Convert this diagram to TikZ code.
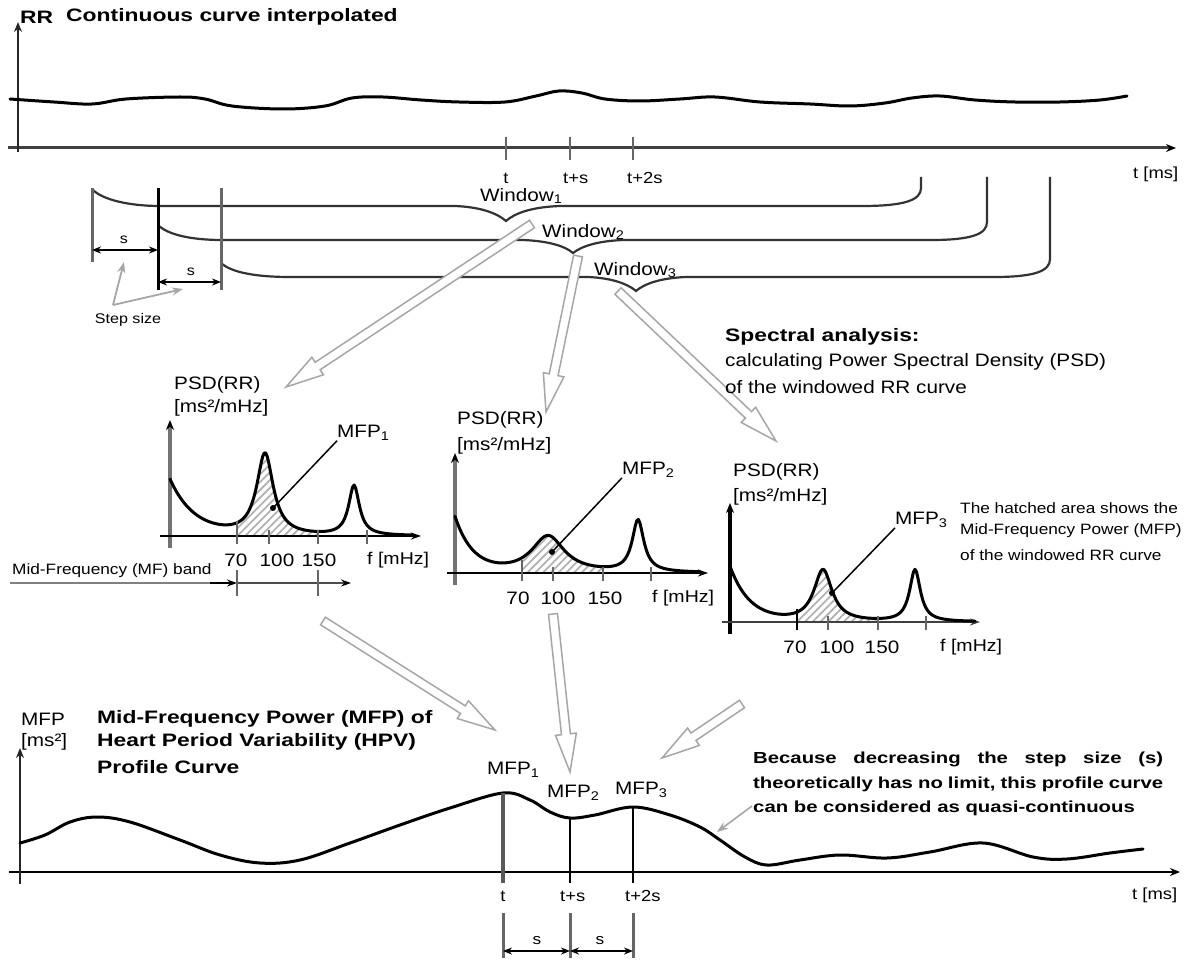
\documentclass[tikz,border=0pt]{standalone}
\usepackage{fontspec}
\setmainfont{Liberation Sans}[FakeStretch=1.15]
\newfontfamily\bdfam{Liberation Sans}[FakeStretch=1.27]
\usetikzlibrary{arrows.meta,calc,patterns.meta}
\newcommand\hollowarr[2]{%
  \coordinate (ha-n) at ($(#2)!38pt!(#1)$);
  \draw[hollow] ($(#1)!4.5pt!90:(#2)$) -- ($(ha-n)!4.5pt!-90:(#1)$) -- ($(ha-n)!10.5pt!-90:(#1)$) -- (#2)
     -- ($(ha-n)!10.5pt!90:(#1)$) -- ($(ha-n)!4.5pt!90:(#1)$) -- ($(#1)!4.5pt!-90:(#2)$) -- cycle;}
\begin{document}
\begin{tikzpicture}[x=1pt,y=-1pt,
  declare function={
    lor(\x,\qa,\qb,\qc)=\qb/(1+((\x-\qa)/\qc)*((\x-\qa)/\qc));
    pa(\x)=56*exp(-(\x-170)/25)+lor(\x,265,82,10)+lor(\x,354,50,6.5);
    pb(\x)=55*exp(-(\x-455)/18)+lor(\x,548,37,20)+lor(\x,638,52,7);
    pc(\x)=55*exp(-(\x-730)/20)+lor(\x,823,52,11)+lor(\x,915,52,6.5);},
  bt/.style={inner sep=0pt, font=\bdfam\bfseries\fontsize{18}{22}\selectfont},
  rt/.style={inner sep=0pt, font=\fontsize{18}{22}\selectfont},
  sm/.style={inner sep=0pt, font=\fontsize{16}{19}\selectfont},
  wl/.style={inner sep=0pt, font=\fontsize{18}{21}\selectfont},
  ss/.style={inner sep=0pt, font=\fontsize{14}{17}\selectfont},
  tiny15/.style={inner sep=0pt, font=\fontsize{15}{18}\selectfont},
  ax/.style={line width=3pt, draw=black!75},
  vax/.style={line width=2.6pt, draw=black!85, -{Stealth[length=10pt,width=8pt]}},
  curve/.style={line width=3pt, draw=black, line join=round, line cap=round},
  psdx/.style={line width=2.2pt, draw=black, -{Stealth[length=10pt,width=7pt]}},
  psdy/.style={line width=3.2pt, draw=black!55, -{Stealth[length=10pt,width=8pt,black]}},
  tick/.style={line width=2.8pt, draw=black!60},
  brace/.style={line width=2.2pt, draw=black!80},
  hollow/.style={draw=black!35, line width=1.5pt, fill=white, line join=miter},
  hatch/.style={pattern={Lines[angle=45,distance=5.5pt,line width=1.8pt]}, pattern color=black!30},
  leader/.style={line width=1.5pt, draw=black},
  dimarr/.style={line width=2.2pt, draw=black, {Stealth[length=9pt,width=7pt]}-{Stealth[length=9pt,width=7pt]}},
  grayarr/.style={line width=1.8pt, draw=black!35, -{Stealth[length=11pt,width=8pt]}}
]
\useasboundingbox (0,0) rectangle (1186,960);

% ================= TOP PANEL =================
\node[bt, anchor=west] (rr) at (20,17) {RR};
\node[bt, anchor=west] (title) at (66,17) {Continuous curve interpolated};
\coordinate (topO) at (18,152);
\coordinate (topY) at (18,22);
\coordinate (topXs) at (8,148);
\coordinate (topXe) at (1176,148);
\draw[ax, -{Stealth[length=10pt,width=8pt,black]}] (topXs) -- (topXe);
\draw[vax] (topO) -- (topY);
\node[sm, anchor=west] (tms1) at (1133,174) {t [ms]};
\draw[curve] plot[smooth, tension=0.6] coordinates {(10,99) (54,102) (92,104) (126,99) (180,97) (205,99) (232,106) (283,109) (325,106) (352,98) (383,97) (421,100) (459,102) (505,102) (536,96) (559,91) (582,93) (605,99) (640,101) (680,99) (715,97) (760,102) (810,104) (850,106) (885,103) (912,98) (940,96) (975,100) (1015,102) (1060,102) (1100,100) (1127,96)};
\foreach \tx in {506,570,633} \draw[tick] (\tx,137) -- (\tx,160);
\node[sm, anchor=center] (tt1) at (506,178) {t};
\node[sm, anchor=west] (tt2) at (563,178) {t+s};
\node[sm, anchor=west] (tt3) at (627,178) {t+2s};

% Windows (braces)
\draw[brace] (92,189) .. controls (102,200) and (130,206) .. (160,206) -- (455,206)
   .. controls (480,207) and (497,213) .. (506,221) .. controls (515,213) and (532,207) .. (560,206)
   -- (862,206) .. controls (905,206) and (921,200) .. (921,188) -- (921,177);
\draw[brace] (158,225) .. controls (168,235) and (192,240) .. (222,240) -- (523,240)
   .. controls (548,241) and (565,246) .. (573,253) .. controls (582,246) and (598,241) .. (623,240)
   -- (931,240) .. controls (972,240) and (987,234) .. (987,222) -- (987,177);
\draw[brace] (221,263) .. controls (232,273) and (258,277) .. (290,277) -- (588,277)
   .. controls (612,278) and (628,284) .. (636,291) .. controls (644,284) and (660,278) .. (686,277)
   -- (994,277) .. controls (1035,277) and (1050,271) .. (1050,259) -- (1050,177);
\node[wl, anchor=west] (w1) at (480,196) {Window\textsubscript{1}};
\node[wl, anchor=west] (w2) at (542,232) {Window\textsubscript{2}};
\node[wl, anchor=west] (w3) at (594,270) {Window\textsubscript{3}};

% step size
\draw[tick, line width=3pt] (92,188) -- (92,262);
\draw[tick, line width=3pt, draw=black] (158,188) -- (158,290);
\draw[tick, line width=3pt] (221,188) -- (221,290);
\coordinate (sA) at (92,250); \coordinate (sB) at (158,250);
\coordinate (sC) at (158,282); \coordinate (sD) at (221,282);
\draw[dimarr] (sA) -- (sB);
\draw[dimarr] (sC) -- (sD);
\node[ss] (s1) at (124,240) {s};
\node[ss] (s2) at (191,272) {s};
\node[ss] (stepsize) at (128,320) {Step size};
\coordinate (stepsrc) at (113,305);
\coordinate (stepT1) at (124,262);
\coordinate (stepT2) at (183,289);
\draw[grayarr] (stepsrc) -- (stepT1);
\draw[grayarr] (stepsrc) -- (stepT2);

% hollow arrows to PSDs
\coordinate (ha1s) at (532,224); \coordinate (ha1e) at (286,387);
\coordinate (ha2s) at (578,256); \coordinate (ha2e) at (546,412);
\coordinate (ha3s) at (618,291); \coordinate (ha3e) at (776,441);
\hollowarr{ha1s}{ha1e}
\hollowarr{ha2s}{ha2e}
\hollowarr{ha3s}{ha3e}

% Spectral analysis text
\node[bt, anchor=west] (spec) at (725,337) {Spectral analysis:};
\node[rt, anchor=west] (calc1) at (725,362) {calculating Power Spectral Density (PSD)};
\node[rt, anchor=west] (calc2) at (725,387) {of the windowed RR curve};

% ================= PSD 1 =================
\node[rt, anchor=west] (pa1) at (174,385) {PSD(RR)};
\node[rt, anchor=west] (pa2) at (174,408) {[ms²/mHz]};
\fill[hatch] plot[domain=237:318,samples=60] (\x,{536-pa(\x)}) -- (318,536) -- (237,536) -- cycle;
\draw[psdy] (170,548) -- (170,420);
\draw[psdx] (160,536) -- (421,536);
\draw[curve] plot[domain=170:412,samples=160] (\x,{536-pa(\x)});
\draw[tick] (237,521) -- (237,544);
\foreach \tx in {269,318,367} \draw[tick] (\tx,530) -- (\tx,544);
\node[rt] (pal70) at (236,560) {70};
\node[rt] (pal100) at (277,560) {100};
\node[rt] (pal150) at (319,560) {150};
\node[sm, anchor=west, font=\fontsize{17}{20}\selectfont] (palf) at (367,560) {f [mHz]};
\node[rt, anchor=west] (mfpa) at (337,433) {MFP\textsubscript{1}};
\coordinate (mfpaDot) at (273,508);
\draw[leader] (mfpa.south west) -- (mfpaDot);
\fill (mfpaDot) circle (3pt);

% MF band
\node[tiny15, anchor=west] (mfband) at (12,571) {Mid-Frequency (MF) band};
\coordinate (mfb0) at (10,583); \coordinate (mfb1) at (210,583);
\coordinate (mfb2) at (237,583); \coordinate (mfb3) at (351,583);
\draw[line width=2.4pt, draw=black!50] (mfb0) -- (mfb1);
\draw[line width=2.4pt, draw=black, -{Stealth[length=10pt,width=7pt]}] (mfb1) -- (mfb2);
\draw[line width=2.4pt, draw=black!70, -{Stealth[length=10pt,width=7pt,black]}] (mfb2) -- (mfb3);
\draw[tick] (237,570) -- (237,596);
\draw[tick] (318,570) -- (318,596);

% ================= PSD 2 =================
\node[rt, anchor=west] (pb1) at (457,420) {PSD(RR)};
\node[rt, anchor=west] (pb2) at (457,446) {[ms²/mHz]};
\fill[hatch] plot[domain=522:603,samples=60] (\x,{573-pb(\x)}) -- (603,573) -- (522,573) -- cycle;
\draw[psdy] (455,585) -- (455,453);
\draw[psdx] (447,573) -- (708,573);
\draw[curve] plot[domain=455:700,samples=160] (\x,{573-pb(\x)});
\draw[tick] (522,560) -- (522,581);
\foreach \tx in {553,603,651} \draw[tick] (\tx,567) -- (\tx,581);
\node[rt] (pbl70) at (518,598) {70};
\node[rt] (pbl100) at (558,598) {100};
\node[rt] (pbl150) at (605,598) {150};
\node[sm, anchor=west, font=\fontsize{17}{20}\selectfont] (pblf) at (652,598) {f [mHz]};
\node[rt, anchor=west] (mfpb) at (622,470) {MFP\textsubscript{2}};
\coordinate (mfpbDot) at (552,552);
\draw[leader] (mfpb.south west) -- (mfpbDot);
\fill (mfpbDot) circle (3pt);

% ================= PSD 3 =================
\node[rt, anchor=west] (pc1) at (733,472) {PSD(RR)};
\node[rt, anchor=west] (pc2) at (733,497) {[ms²/mHz]};
\fill[hatch] plot[domain=797:878,samples=60] (\x,{622-pc(\x)}) -- (878,622) -- (797,622) -- cycle;
\draw[psdy, draw=black] (730,634) -- (730,503);
\draw[psdx, draw=black!75] (722,622) -- (980,622);
\draw[curve] plot[domain=730:975,samples=160] (\x,{622-pc(\x)});
\draw[tick, draw=black] (797,609) -- (797,630);
\foreach \tx in {828,878,926} \draw[tick] (\tx,616) -- (\tx,630);
\node[rt] (pcl70) at (795,647) {70};
\node[rt] (pcl100) at (837,647) {100};
\node[rt] (pcl150) at (882,647) {150};
\node[sm, anchor=west, font=\fontsize{17}{20}\selectfont] (pclf) at (940,647) {f [mHz]};
\node[rt, anchor=west] (mfpc) at (895,520) {MFP\textsubscript{3}};
\coordinate (mfpcDot) at (832,593);
\draw[leader] (mfpc.south west) -- (mfpcDot);
\fill (mfpcDot) circle (3pt);

\node[tiny15, anchor=west] (hat1) at (960,508) {The hatched area shows the};
\node[tiny15, anchor=west] (hat2) at (960,531) {Mid-Frequency Power (MFP)};
\node[tiny15, anchor=west] (hat3) at (960,555) {of the windowed RR curve};

% hollow arrows to profile
\coordinate (hb1s) at (323,621); \coordinate (hb1e) at (495,730);
\coordinate (hb2s) at (553,614); \coordinate (hb2e) at (570,772);
\coordinate (hb3s) at (742,704); \coordinate (hb3e) at (662,758);
\hollowarr{hb1s}{hb1e}
\hollowarr{hb2s}{hb2e}
\hollowarr{hb3s}{hb3e}

% ================= BOTTOM PANEL =================
\node[rt, anchor=west] (mfpy1) at (21,719) {MFP};
\node[rt, anchor=west] (mfpy2) at (21,742) {[ms²]};
\node[bt, anchor=west] (bt1) at (97,719) {Mid-Frequency Power (MFP) of};
\node[bt, anchor=west] (bt2) at (97,742) {Heart Period Variability (HPV)};
\node[bt, anchor=west] (bt3) at (97,767) {Profile Curve};
\coordinate (botO) at (20,884);
\coordinate (botY) at (20,748);
\coordinate (botXs) at (9,872);
\coordinate (botXe) at (1180,872);
\draw[line width=2.4pt, draw=black, -{Stealth[length=10pt,width=8pt]}] (botXs) -- (botXe);
\draw[vax] (botO) -- (botY);
\node[sm, anchor=west] (tms2) at (1132,895) {t [ms]};
\draw[curve] plot[smooth, tension=0.6] coordinates {(20,843) (45,835) (70,822) (97,817) (130,822) (180,840) (220,855) (260,863) (300,860) (350,843) (400,825) (450,808) (503,793) (530,800) (550,812) (570,818) (595,815) (633,807) (670,815) (700,827) (720,840) (745,857) (767,865) (800,860) (840,855) (887,858) (930,852) (983,843) (1033,857) (1067,859) (1110,853) (1143,849)};
\coordinate (p1) at (503,793); \coordinate (p2) at (570,818); \coordinate (p3) at (633,807);
\draw[line width=3.2pt, draw=black!65] (p1) -- (503,883);
\draw[line width=2.6pt, draw=black] (p2) -- (570,883);
\draw[line width=2.6pt, draw=black] (p3) -- (633,883);
\node[rt, anchor=west] (bm1) at (487,770) {MFP\textsubscript{1}};
\node[rt, anchor=west] (bm2) at (547,793) {MFP\textsubscript{2}};
\node[rt, anchor=west] (bm3) at (615,790) {MFP\textsubscript{3}};
\node[sm] (bt_1) at (503,896) {t};
\node[sm, anchor=west] (bt_2) at (560,896) {t+s};
\node[sm, anchor=west] (bt_3) at (625,896) {t+2s};
\draw[tick, line width=3pt] (503,913) -- (503,958);
\draw[tick, line width=3pt] (570,913) -- (570,958);
\draw[tick, line width=3pt] (633,913) -- (633,958);
\coordinate (bs1) at (503,951); \coordinate (bs2) at (570,951); \coordinate (bs3) at (633,951);
\draw[dimarr] (bs1) -- (bs2);
\draw[dimarr] (bs2) -- (bs3);
\node[ss, font=\fontsize{15}{18}\selectfont] (bsl1) at (537,941) {s};
\node[ss, font=\fontsize{15}{18}\selectfont] (bsl2) at (600,941) {s};

\node[inner sep=0pt, anchor=north west, text width=410pt, align=justify,
      font=\bdfam\bfseries\fontsize{16}{24.5}\selectfont] (because) at (753,752)
  {Because decreasing the step size (s)\linebreak theoretically has no limit, this profile curve\linebreak can be considered as quasi-continuous};
\coordinate (becSrc) at (752,806);
\coordinate (becTgt) at (717,832);
\draw[grayarr, line width=1.6pt] (becSrc) -- (becTgt);
\end{tikzpicture}
\end{document}
